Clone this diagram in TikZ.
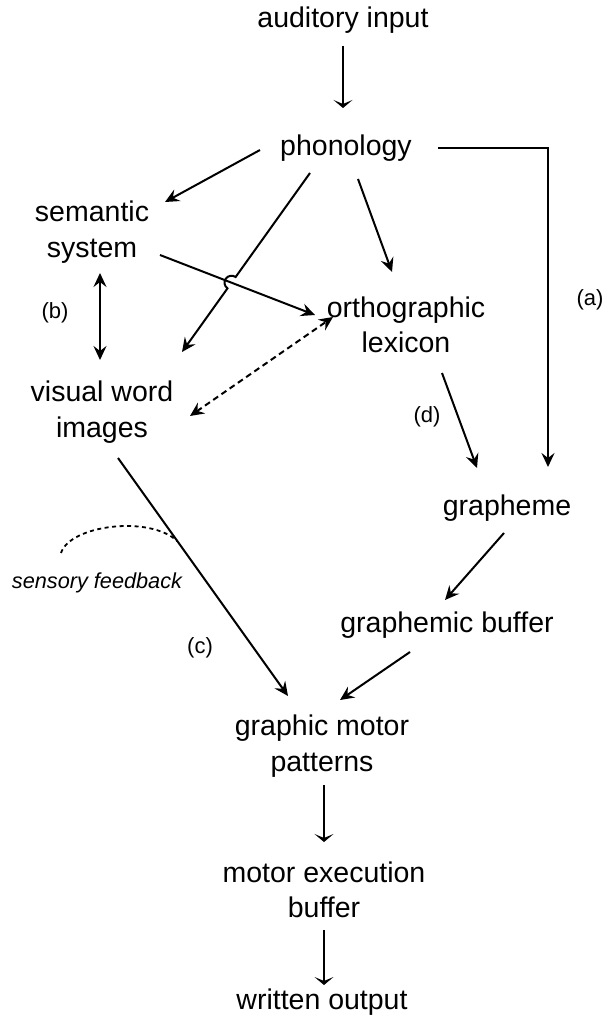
\documentclass[tikz,border=0pt]{standalone}
\usepackage{fontspec}
\setmainfont{Liberation Sans}
\usetikzlibrary{arrows.meta,calc,intersections}

\tikzset{
  box/.style={inner sep=0pt, align=center, font=\fontsize{28.5}{35.5}\selectfont},
  tag/.style={inner sep=0pt, font=\fontsize{22}{26}\selectfont},
  arr/.style={line width=2pt, -{Stealth[length=14pt,width=13pt,inset=5pt]}},
  dbl/.style={line width=2pt, {Stealth[length=14pt,width=13pt,inset=5pt]}-{Stealth[length=14pt,width=13pt,inset=5pt]}},
  flat/.style={line width=1.8pt, -{Stealth[length=8pt,width=19pt,inset=4pt]}},
  dashline/.style={dash pattern=on 6pt off 4pt},
}

\begin{document}
\begin{tikzpicture}[x=1pt,y=-1pt]
  \useasboundingbox (0,0) rectangle (605,1019);

  % processing stages
  \node[box] (aud)  at (343,20)   {auditory input};
  \node[box] (phon) at (346,148)  {phonology};
  \node[box] (sem)  at (92,232)   {semantic\\system};
  \node[box] (orth) at (406,325)  {orthographic\\lexicon};
  \node[box] (vis)  at (102,412)  {visual word\\images};
  \node[box] (gra)  at (507,508)  {grapheme};
  \node[box] (gbuf) at (447,625)  {graphemic buffer};
  \node[box] (gmp)  at (322,746)  {graphic motor\\patterns};
  \node[box] (meb)  at (324,890)  {motor execution\\buffer};
  \node[box] (wout) at (322,1002) {written output};

  % route labels
  \node[tag] (la) at (590,300) {(a)};
  \node[tag] (lb) at (55,313)  {(b)};
  \node[tag] (lc) at (200,648) {(c)};
  \node[tag] (ld) at (427,417) {(d)};
  \node[inner sep=0pt, font=\fontsize{21.7}{24}\selectfont\itshape] (sf) at (97,583) {sensory feedback};

  % central column
  \draw[flat] ($(aud)+(0,26)$) -- ($(phon)+(-3,-40)$);
  \draw[flat] ($(gmp)+(2,39)$) -- ($(meb)+(0,-48)$);
  \draw[flat] ($(meb)+(0,40)$) -- ($(wout)+(2,-17)$);

  % from phonology
  \draw[arr] ($(phon)+(-86,2)$) -- ($(sem)+(73,-30)$);
  \draw[arr] ($(phon)+(12,31)$) -- ($(orth)+(-14,-53)$);
  \draw[arr] ($(phon)+(92,0)$) -| ($(gra)+(41,-41)$);

  % semantic system to orthographic lexicon, crossed by the phonology line
  \draw[arr, name path=semorth] ($(sem)+(68,23)$) -- ($(orth)+(-91,-10)$);
  \coordinate (hopA) at ($(phon)+(-36,25)$);
  \coordinate (hopB) at ($(vis)+(80,-60)$);
  \path[name path=phonvis] (hopA) -- (hopB);
  \path[name intersections={of=semorth and phonvis, by=cross}];
  \draw[arr] let \p1=($(hopA)-(cross)$), \n1={atan2(\y1,\x1)} in
    (hopA) -- ($(cross)!7pt!(hopA)$) arc[start angle=\n1, delta angle=180, radius=7pt] -- (hopB);

  % remaining routes
  \draw[dbl] ($(sem)+(8,41)$) -- ($(vis)+(-2,-52)$);
  \draw[dbl, dashline] ($(vis)+(88,4)$) -- ($(orth)+(-73,-8)$);
  \draw[arr] ($(orth)+(36,48)$) -- ($(gra)+(-30,-40)$);
  \draw[arr] ($(gra)+(-3,25)$) -- ($(gbuf)+(-2,-25)$);
  \draw[arr] ($(gbuf)+(-37,27)$) -- ($(gmp)+(18,-46)$);
  \draw[arr] ($(vis)+(16,46)$) coordinate (cA) -- ($(gmp)+(-34,-50)$) coordinate (cB);

  % feedback loop onto route (c)
  \draw[line width=1.8pt, dash pattern=on 4pt off 3.5pt]
    ($(sf)+(-36,-30)$) .. controls ($(sf)+(-27,-58)$) and ($(sf)+(53,-68)$) .. ($(cA)!0.35!(cB)$);
\end{tikzpicture}
\end{document}
